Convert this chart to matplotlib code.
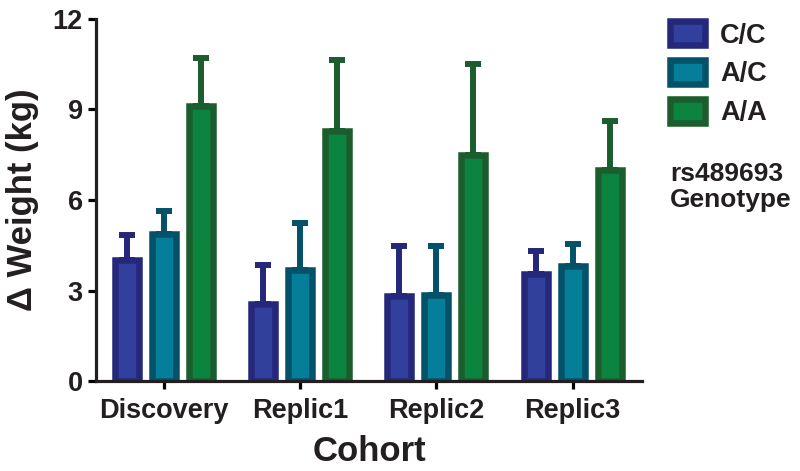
import numpy as np
import matplotlib.pyplot as plt

plt.rcParams['font.family'] = ['Liberation Sans', 'DejaVu Sans']
plt.rcParams['font.weight'] = 'bold'
plt.rcParams['axes.labelweight'] = 'bold'

cohorts = ['Discovery', 'Replic1', 'Replic2', 'Replic3']
genotypes = ['C/C', 'A/C', 'A/A']

# mean weight change (kg) and upper error (SEM)
cc_mean = [4.01, 2.55, 2.82, 3.55]
cc_err = [0.83, 1.30, 1.65, 0.76]
ac_mean = [4.87, 3.68, 2.85, 3.81]
ac_err = [0.76, 1.56, 1.62, 0.73]
aa_mean = [9.11, 8.29, 7.49, 6.99]
aa_err = [1.59, 2.35, 3.01, 1.63]

face_colors = ['#313f9d', '#057f99', '#0b8440']
edge_colors = ['#25287a', '#04526a', '#1c5d2d']


def main():
    fig = plt.figure(figsize=(8, 4.71), dpi=100)
    ax = fig.add_axes([0.12, 0.191, 0.6825, 0.7687])

    x = np.arange(len(cohorts))
    pitch = 0.272
    width = 0.176
    means = [cc_mean, ac_mean, aa_mean]
    errs = [cc_err, ac_err, aa_err]
    handles = []
    for i in range(3):
        lower = np.zeros(len(cohorts))
        b = ax.bar(x + (i - 1) * pitch, means[i], width=width,
                   color=face_colors[i], edgecolor=edge_colors[i], linewidth=4.7,
                   yerr=[lower, errs[i]],
                   error_kw=dict(ecolor=edge_colors[i], elinewidth=4.3,
                                 capsize=5.5, capthick=4.3, zorder=1),
                   zorder=2, label=genotypes[i])
        handles.append(b)

    ax.set_xlim(-0.5, 3.51)
    ax.set_ylim(0, 12)
    ax.set_yticks([0, 3, 6, 9, 12])
    ax.set_xticks(x)
    ax.set_xticklabels(cohorts)
    ax.tick_params(axis='both', labelsize=19.5, width=2.3, length=6,
                   direction='out', labelcolor='#231f20')
    ax.tick_params(axis='x', pad=6)
    for s in ['top', 'right']:
        ax.spines[s].set_visible(False)
    for s in ['left', 'bottom']:
        ax.spines[s].set_linewidth(2.3)
        ax.spines[s].set_color('#231f20')

    ax.set_xlabel('Cohort', fontsize=25, fontweight='bold', labelpad=8, color='#231f20')
    ax.set_ylabel('Δ Weight (kg)', fontsize=25, fontweight='bold', labelpad=10,
                  color='#231f20')

    leg = ax.legend(handles=handles, loc='upper left',
                    bbox_to_anchor=(0.8375, 0.955), bbox_transform=fig.transFigure,
                    frameon=False, fontsize=19.5, handlelength=1.3, handleheight=1.0,
                    labelspacing=0.42, borderpad=0, borderaxespad=0, handletextpad=0.55)
    for t in leg.get_texts():
        t.set_color('#231f20')
    fig.text(0.8375, 0.655, 'rs489693\nGenotype', fontsize=19, fontweight='bold',
             ha='left', va='top', linespacing=1.1, color='#231f20')

    fig.savefig('out.png', dpi=100)


if __name__ == '__main__':
    main()
